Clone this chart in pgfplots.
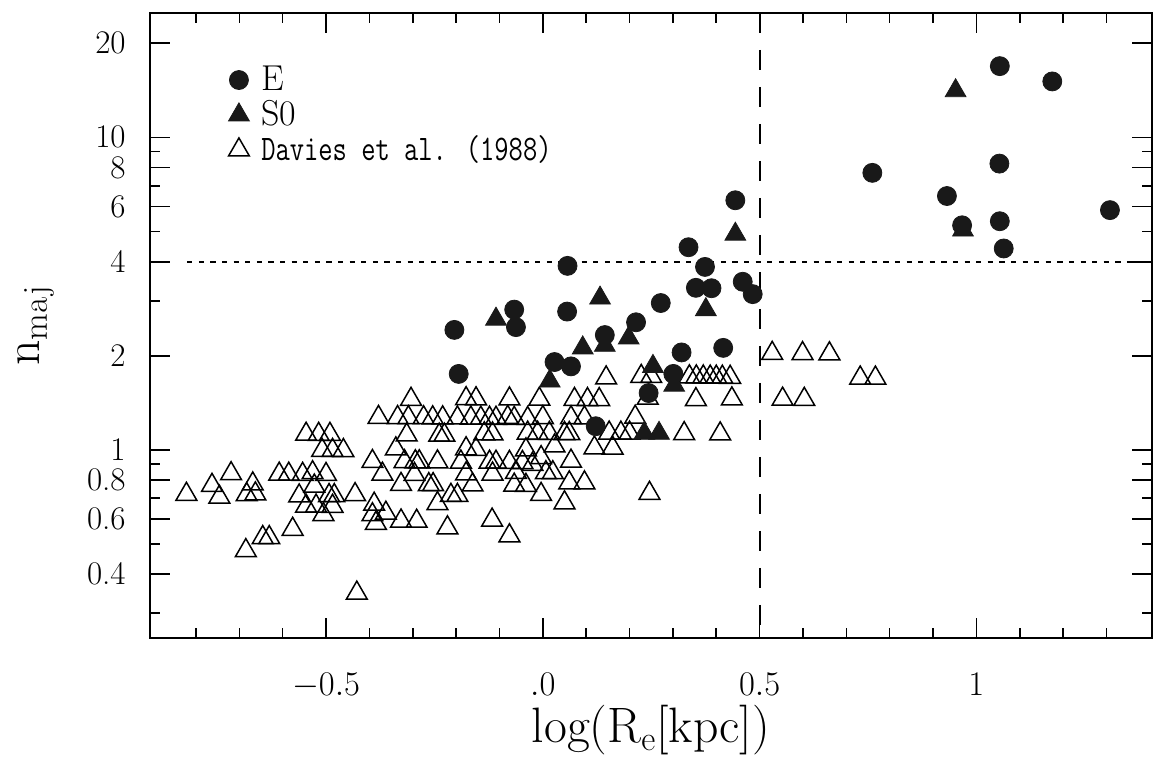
\documentclass[border=0pt]{standalone}
\usepackage{pgfplots}
\pgfplotsset{compat=1.18}
\usepackage{graphicx}
\pgfplotsset{legend image code/.code={\draw[#1] plot coordinates {(0pt,0pt)};}}
\begin{document}
\begin{tikzpicture}
\useasboundingbox (-75pt,-60pt) rectangle (502pt,319pt);
\begin{axis}[
  at={(0pt,0pt)}, anchor=south west,
  scale only axis, width=501pt, height=312.5pt,
  xmin=-0.906, xmax=1.405,
  ymode=log, ymin=0.25, ymax=25,
  xtick={-0.5,0,0.5,1},
  xticklabels={$-0.5$,$.0$,$0.5$,$1$},
  minor xtick={-0.8,-0.7,-0.6,-0.4,-0.3,-0.2,-0.1,0.1,0.2,0.3,0.4,0.6,0.7,0.8,0.9,1.1,1.2,1.3},
  ytick={0.4,0.6,0.8,1,2,4,6,8,10,20},
  yticklabels={0.4,0.6,0.8,1,2,4,6,8,10,20},
  minor ytick={0.3,0.5,0.7,0.9,3,5,7,9},
  tick pos=both, ticklabel pos=left, tick align=inside,
  major tick length=10pt, minor tick length=5pt,
  every tick/.style={black, line width=0.8pt},
  axis line style={line width=0.8pt},
  xticklabel style={font=\fontsize{19}{22}\selectfont, yshift=-14pt},
  yticklabel style={font=\fontsize{16.5}{18}\selectfont, inner sep=1pt, xshift=-11pt},
  xlabel={$\mathrm{log(R_e[kpc])}$},
  ylabel={$\mathrm{n_{maj}}$},
  label style={font=\fontsize{24}{27}\selectfont},
  xlabel style={at={(axis description cs:0.5,-0.148)}, anchor=center, inner sep=0pt},
  ylabel style={at={(axis description cs:-0.114,0.5)}, anchor=center},
  legend style={draw=none, fill=none, at={(axis description cs:0.072,0.925)}, anchor=north west,
    font=\fontsize{18}{20}\selectfont, row sep=1.5pt, column sep=5pt, nodes={inner sep=1pt}},
  legend cell align=left,
]
\addlegendimage{mark=*, mark size=4.75pt, mark options={fill=black!90, draw=black!90}}
\addlegendentry{E}
\addlegendimage{mark=triangle*, mark size=6pt, mark options={fill=black!90, draw=black!90}}
\addlegendentry{S0}
\addlegendimage{mark=triangle, mark size=6pt, mark options={draw=black, line width=0.75pt}}
\addlegendentry{\ttfamily\scalebox{0.77}[1]{Davies et al. (1988)}}

% reference lines
\addplot[forget plot, line width=1pt, dash pattern=on 2.6pt off 3.2pt] coordinates {(-0.82,4) (1.405,4)};
\addplot[forget plot, line width=0.95pt, dash pattern=on 10pt off 8.5pt] coordinates {(0.5,25) (0.5,0.25)};

% Davies et al. (1988)
\addplot[forget plot, only marks, mark=triangle, mark size=6pt, mark options={draw=black, line width=0.75pt}] table {
x y
-0.822 0.721
-0.763 0.770
-0.746 0.706
-0.719 0.839
-0.683 0.719
-0.669 0.778
-0.663 0.723
-0.685 0.476
-0.646 0.524
-0.631 0.524
-0.577 0.557
-0.608 0.836
-0.586 0.836
-0.554 0.835
-0.531 0.845
-0.500 0.834
-0.527 0.766
-0.546 1.122
-0.517 1.121
-0.491 1.121
-0.509 0.996
-0.485 0.996
-0.460 0.995
-0.562 0.712
-0.546 0.661
-0.523 0.661
-0.506 0.621
-0.493 0.714
-0.481 0.714
-0.485 0.660
-0.433 0.719
-0.429 0.348
-0.304 1.451
-0.379 1.270
-0.335 1.269
-0.310 1.268
-0.275 1.267
-0.254 1.266
-0.231 1.266
-0.197 1.265
-0.177 1.458
-0.154 1.457
-0.166 1.264
-0.143 1.263
-0.123 1.263
-0.108 1.262
-0.077 1.455
-0.066 1.261
-0.035 1.260
-0.314 1.116
-0.239 1.114
-0.227 1.114
-0.135 1.125
-0.116 1.124
-0.339 1.007
-0.177 1.008
-0.154 1.003
-0.039 1.000
-0.393 0.918
-0.319 0.917
-0.294 0.916
-0.285 0.916
-0.243 0.915
-0.189 0.914
-0.123 0.913
-0.108 0.913
-0.077 0.912
-0.047 0.911
-0.370 0.836
-0.296 0.834
-0.177 0.838
-0.116 0.837
-0.062 0.847
-0.327 0.775
-0.263 0.774
-0.253 0.774
-0.162 0.772
-0.066 0.771
-0.039 0.770
-0.212 0.715
-0.197 0.715
-0.243 0.673
-0.389 0.670
-0.362 0.627
-0.393 0.620
-0.385 0.582
-0.327 0.592
-0.291 0.591
-0.220 0.563
-0.117 0.596
-0.077 0.531
0.146 1.699
-0.008 1.453
0.073 1.450
0.103 1.449
0.130 1.448
0.242 1.463
0.353 1.448
-0.081 1.271
0.000 1.269
0.065 1.267
0.096 1.266
0.213 1.272
-0.035 1.131
-0.012 1.130
0.015 1.129
0.050 1.128
0.061 1.128
0.153 1.132
0.180 1.131
0.200 1.131
0.326 1.127
0.119 1.014
0.161 1.013
0.027 1.029
0.065 0.920
-0.004 0.944
-0.024 0.899
0.007 0.845
0.023 0.845
0.061 0.784
0.096 0.784
-0.004 0.720
0.050 0.677
0.246 0.726
0.227 1.718
0.250 1.717
0.338 1.713
0.354 1.712
0.370 1.711
0.386 1.710
0.400 1.709
0.414 1.708
0.432 1.707
0.436 1.456
0.409 1.125
0.529 2.036
0.599 2.033
0.661 2.030
0.732 1.698
0.767 1.697
0.553 1.453
0.603 1.451
};

% S0
\addplot[forget plot, only marks, mark=triangle*, mark size=6pt, mark options={fill=black!90, draw=black!90}] table {
x y
-0.108 2.62
0.132 3.06
0.092 2.12
0.143 2.16
0.198 2.28
0.016 1.66
0.254 1.85
0.303 1.61
0.234 1.13
0.268 1.13
0.376 2.81
0.444 4.90
0.952 14.1
0.969 5.05
};

% E
\addplot[forget plot, only marks, mark=*, mark size=4.75pt, mark options={fill=black!90, draw=black!90}] table {
x y
-0.204 2.42
-0.194 1.75
-0.066 2.81
-0.062 2.47
0.057 3.88
0.056 2.77
0.027 1.91
0.065 1.85
0.143 2.33
0.215 2.56
0.272 2.95
0.336 4.45
0.374 3.85
0.353 3.30
0.389 3.29
0.444 6.29
0.461 3.45
0.484 3.15
0.320 2.05
0.416 2.12
0.301 1.75
0.244 1.52
0.122 1.19
0.760 7.70
0.932 6.49
1.054 16.9
1.175 15.1
1.053 8.24
1.308 5.85
0.967 5.23
1.054 5.39
1.063 4.41
};
\end{axis}
\end{tikzpicture}
\end{document}
